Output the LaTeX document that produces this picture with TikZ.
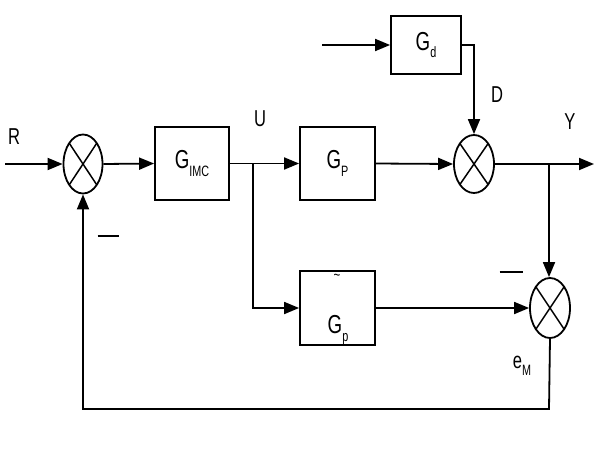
\documentclass[tikz,border=0pt]{standalone}
\usepackage{fontspec}
\setmainfont{Liberation Sans}[FakeStretch=0.72]
\usetikzlibrary{arrows.meta,shapes.geometric}
\newcommand\gsub[2]{#1\raisebox{-0.3em}{\fontsize{15}{15}\selectfont #2}}
\begin{document}
\begin{tikzpicture}[x=1pt,y=-1pt,
  line width=1.8pt,
  >={Triangle[length=15pt,width=12pt]},
  blockbox/.style={draw,rectangle,inner sep=0pt,font=\fontsize{26}{26}\selectfont},
  sumnode/.style={draw,ellipse,inner sep=0pt,minimum width=39pt,minimum height=59pt,
    path picture={\draw[line width=1.5pt] (path picture bounding box.south west) -- (path picture bounding box.north east)
      (path picture bounding box.north west) -- (path picture bounding box.south east);}},
  lab/.style={font=\fontsize{23}{23}\selectfont,inner sep=0pt}]
\useasboundingbox (0,0) rectangle (600,450);
\node[sumnode] (s1) at (83,164) {};
\node[blockbox,minimum width=74pt,minimum height=73pt] (gimc) at (192,163.5) {\gsub{G}{IMC}};
\node[blockbox,minimum width=75pt,minimum height=73pt] (gp) at (337.5,163.5) {\gsub{G}{P}};
\node[blockbox,minimum width=70pt,minimum height=58pt] (gd) at (426,45) {\gsub{G}{d}};
\node[sumnode,minimum width=40pt,minimum height=58pt] (s2) at (474,164) {};
\node[blockbox,minimum width=75pt,minimum height=74pt] (gp2) at (337.5,308) {};
\node[font=\fontsize{26}{26}\selectfont,inner sep=0pt] (gp2t) at (338,330) {\gsub{G}{p}};
\node[font=\fontsize{16}{16}\selectfont,inner sep=0pt] (tl) at (337,277) {\textasciitilde};
\node[sumnode,minimum width=40pt,minimum height=60pt] (s3) at (550,308) {};
\coordinate (rin) at (5,164);
\coordinate (din) at (322,45);
\coordinate (u) at (253,164);
\coordinate (b) at (549,164);
\coordinate (yout) at (594,164);
\coordinate (fb) at (549,409);
\draw[->] (rin) -- (s1.west);
\draw[->] (s1.east) -- (gimc.west);
\draw[->] (gimc.east) -- (gp.west);
\draw[->] (gp.east) -- (s2.west);
\draw[->] (s2.east) -- (yout);
\draw[->] (din) -- (gd.west);
\draw[->] (gd.east) -| (s2.north);
\draw[->] (u) |- (gp2.west);
\draw[->] (b) -- (b |- s3.north);
\draw[->] (gp2.east) -- (s3.west);
\draw[->] (s3.south) -- (fb) -| (s1.south);
\node[lab] (lr) at (14,137) {R};
\node[lab] (lu) at (260,119) {U};
\node[lab] (ld) at (497,95) {D};
\node[lab] (ly) at (570,122) {Y};
\node[lab] (le) at (522,366) {\gsub{e}{M}};
\node[lab] (m1) at (108,236) {\rule{21pt}{2pt}};
\node[lab] (m2) at (511,272) {\rule{23pt}{2pt}};
\end{tikzpicture}
\end{document}
